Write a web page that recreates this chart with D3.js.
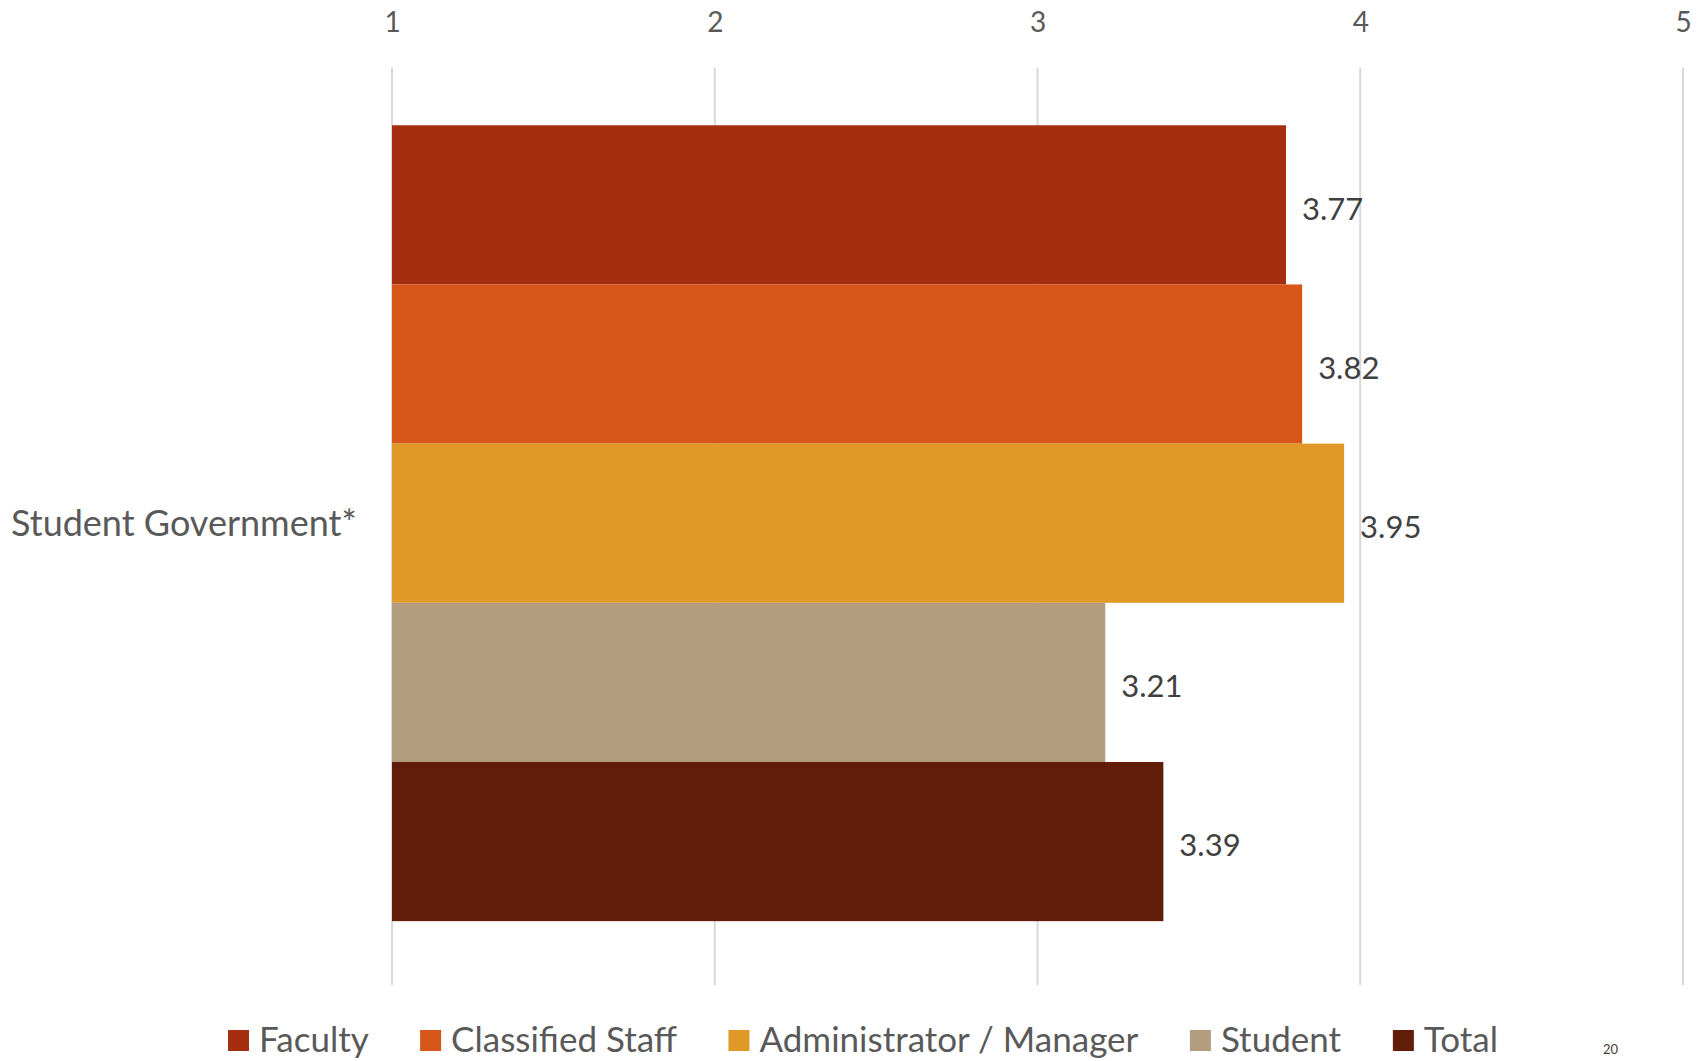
<!DOCTYPE html>
<html>
<head>
<meta charset="utf-8">
<script src="https://cdn.jsdelivr.net/npm/d3@7"></script>
<style>
  html, body { margin: 0; padding: 0; background: #fff; }
  svg { display: block; }
  text { font-family: Lato, "Open Sans", sans-serif; }
</style>
</head>
<body>
<svg id="chart" width="1707" height="1061"></svg>
<script>
const categories = ["Student Government*"];
const seriesNames = ["Faculty", "Classified Staff", "Administrator / Manager", "Student", "Total"];
const seriesValues = [3.77, 3.82, 3.95, 3.21, 3.39];
const valueLabels = ["3.77", "3.82", "3.95", "3.21", "3.39"];
const tickValues = [1, 2, 3, 4, 5];
const seriesColors = ["#A62E10", "#D55618", "#E09827", "#B39D7F", "#621C0A"];

const svg = d3.select("#chart");
const plot = { left: 392, right: 1683, top: 67.5, bottom: 985 };

const x = d3.scaleLinear().domain([1, 5]).range([plot.left, plot.right]);
const y0 = d3.scaleBand().domain(categories).range([plot.top, plot.bottom])
  .paddingInner(0).paddingOuter(0.0764).align(0.475);
const y1 = d3.scaleBand().domain(seriesNames).range([0, y0.bandwidth()]).padding(0);
const color = d3.scaleOrdinal().domain(seriesNames).range(seriesColors);

// gridlines
svg.append("g").selectAll("line").data(tickValues).join("line")
  .attr("x1", d => x(d)).attr("x2", d => x(d))
  .attr("y1", plot.top).attr("y2", plot.bottom)
  .attr("stroke", "#d9d9d9").attr("stroke-width", 2);

// top axis labels
const axis = d3.axisTop(x).tickValues(tickValues).tickSize(0).tickFormat(d3.format("d"));
const gAxis = svg.append("g").attr("transform", `translate(0, 35)`).call(axis);
gAxis.select(".domain").remove();
gAxis.selectAll("text").attr("font-size", 28).attr("fill", "#595959")
  .attr("font-family", "Lato, sans-serif").attr("dy", 0);

// bars
const data = seriesNames.map((s, i) => ({ cat: categories[0], name: s, value: seriesValues[i], label: valueLabels[i] }));
const g = svg.append("g");
g.selectAll("rect").data(data).join("rect")
  .attr("x", x(1))
  .attr("y", d => y0(d.cat) + y1(d.name))
  .attr("width", d => x(d.value) - x(1))
  .attr("height", y1.bandwidth())
  .attr("fill", d => color(d.name));

// value labels
g.selectAll("text.val").data(data).join("text").attr("class", "val")
  .attr("x", d => x(d.value) + 16)
  .attr("y", d => y0(d.cat) + y1(d.name) + y1.bandwidth() / 2 + 4)
  .attr("dy", "0.35em")
  .attr("font-size", 31).attr("fill", "#404040")
  .text(d => d.label);

// category label
svg.append("g").selectAll("text").data(categories).join("text")
  .attr("x", 11)
  .attr("y", d => y0(d) + y0.bandwidth() / 2)
  .attr("dy", "0.35em")
  .attr("font-size", 36).attr("fill", "#595959")
  .text(d => d);

// legend
const legend = svg.append("g");
const items = legend.selectAll("g").data(seriesNames).join("g");
items.append("rect").attr("width", 21).attr("height", 21).attr("y", -10)
  .attr("fill", d => color(d));
items.append("text").attr("x", 31).attr("dy", "0.35em")
  .attr("font-size", 35).attr("fill", "#595959").text(d => d);
const widths = [];
items.each(function () { widths.push(this.getBBox().width); });
const span = [228, 1498];
const gap = (span[1] - span[0] - d3.sum(widths)) / (widths.length - 1);
let cx = span[0];
items.each(function (d, i) {
  d3.select(this).attr("transform", `translate(${cx},0)`);
  cx += widths[i] + gap;
});
legend.attr("transform", `translate(0, 1040)`);

// page number fragment at bottom-right
svg.append("text").attr("x", 1603).attr("y", 1054)
  .attr("font-size", 13).attr("fill", "#404040").text("20");
</script>
</body>
</html>
